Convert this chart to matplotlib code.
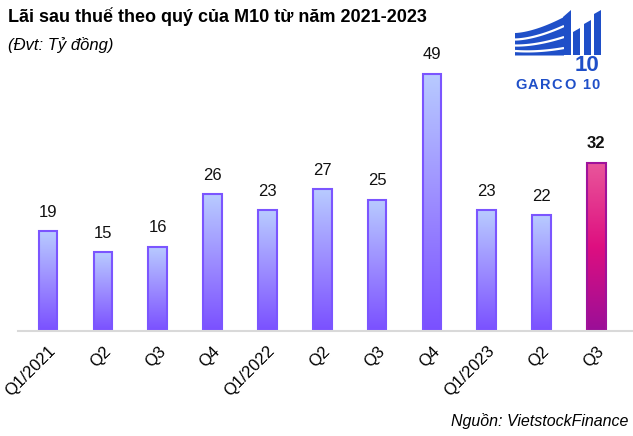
import numpy as np
import matplotlib
matplotlib.use("Agg")
import matplotlib.pyplot as plt
from matplotlib.colors import LinearSegmentedColormap
from matplotlib.patches import Polygon, Rectangle

plt.rcParams['font.family'] = ['Liberation Sans', 'DejaVu Sans']

categories = ["Q1/2021", "Q2", "Q3", "Q4", "Q1/2022", "Q2", "Q3", "Q4", "Q1/2023", "Q2", "Q3"]
values = [19, 15, 16, 26, 23, 27, 25, 49, 23, 22, 32]

title = "Lãi sau thuế theo quý của M10 từ năm 2021-2023"
subtitle = "(Đvt: Tỷ đồng)"
source = "Nguồn: VietstockFinance"
logo_text = "GARCO 10"

W, H = 633, 436
fig = plt.figure(figsize=(W / 100, H / 100), dpi=100)
ax = fig.add_axes([18 / W, (H - 331) / H, 614 / W, 289 / H])

bw = 0.34
cmap_norm = LinearSegmentedColormap.from_list("n", ["#7A50FF", "#9C8CFF", "#B8CBFF"])
cmap_hl = LinearSegmentedColormap.from_list("h", ["#9A0E98", "#DE0F80", "#E9579B"])
grad = np.linspace(0, 1, 256).reshape(-1, 1)

x = np.arange(len(values))
for i, v in enumerate(values):
    last = i == len(values) - 1
    cm = cmap_hl if last else cmap_norm
    edge = "#A0129A" if last else "#7B55FF"
    ax.imshow(grad, extent=(x[i] - bw / 2, x[i] + bw / 2, 0, v), origin="lower",
              cmap=cm, aspect="auto", zorder=2)
    ax.add_patch(Rectangle((x[i] - bw / 2, 0), bw, v, fill=False, edgecolor=edge,
                           linewidth=1.5, zorder=3))
    ax.text(x[i], v + 2.2, str(v), ha="center", va="bottom", fontsize=12,
            fontweight="bold" if last else "normal", color="#111111")

ax.set_xlim(-0.55, 10.65)
ax.set_ylim(0, 55)
ax.set_xticks(x)
ax.set_xticklabels(categories, rotation=45, ha="right", rotation_mode="anchor", fontsize=12)
ax.tick_params(axis="x", length=0, pad=9)
ax.set_yticks([])
for s in ["top", "right", "left"]:
    ax.spines[s].set_visible(False)
ax.spines["bottom"].set_color("#D9D9D9")
ax.spines["bottom"].set_linewidth(1.5)
ax.spines["bottom"].set_zorder(4)

fig.text(8 / W, 1 - 17 / H, title, fontsize=13, fontweight="bold", va="center", ha="left")
fig.text(8 / W, 1 - 45 / H, subtitle, fontsize=12, style="italic", va="center", ha="left")
fig.text(628 / W, 1 - 421 / H, source, fontsize=11.5, style="italic", va="center", ha="right")

# ---- Logo (coordinates in pixels) ----
lx0, lx1, ly0, ly1 = 505, 610, 5, 95
lax = fig.add_axes([lx0 / W, 1 - ly1 / H, (lx1 - lx0) / W, (ly1 - ly0) / H])
lax.set_xlim(lx0, lx1)
lax.set_ylim(ly1, ly0)
lax.axis("off")
blue = "#1F4FC8"

# vertical bars with slanted tops
for xl, top in [(573, 28), (584, 20), (594, 10)]:
    lax.add_patch(Polygon([(xl, top + 4), (xl + 7, top), (xl + 7, 55), (xl, 55)],
                          color=blue, lw=0))
# upright of swoosh
lax.add_patch(Polygon([(563, 17), (571, 10), (571, 55), (563, 55)], color=blue, lw=0))

# swoosh block
xs = np.linspace(515, 564, 80)
tt = (xs - 515) / 49
y_top = 33 - 16 * tt ** 1.6
y_bot = np.full_like(xs, 55.5)
pts = list(zip(xs, y_top)) + list(zip(xs[::-1], y_bot[::-1]))
sw = Polygon(pts, color=blue, lw=0)
lax.add_patch(sw)
for dl, dr in [(6.5, 9), (12.5, 20), (18, 31)]:
    ln, = lax.plot(xs, y_top + dl + (dr - dl) * tt ** 1.3, color="white", lw=1.6,
                   solid_capstyle="butt")
    ln.set_clip_path(sw)

# "10" block
lax.text(587, 65.5, "10", fontsize=16, fontweight="bold", color=blue,
         ha="center", va="center")

# "GARCO 10" with letter spacing
adv = {"G": .778, "A": .722, "R": .722, "C": .722, "O": .778, " ": .278, "1": .556, "0": .556}
fs = 10.5
px = fs * 100 / 72
track = 1.5
cx = 515.0
for ch in logo_text:
    wch = adv[ch] * px
    if ch != " ":
        lax.text(cx + wch / 2, 85, ch, fontsize=fs, fontweight="bold", color=blue,
                 ha="center", va="center")
    cx += wch + track

fig.savefig("out.png", dpi=100)
